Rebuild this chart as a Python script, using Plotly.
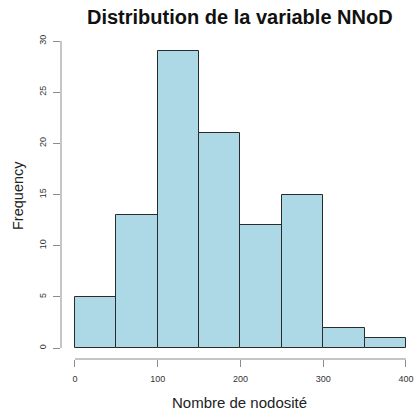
import plotly.graph_objects as go

bin_starts = [0, 50, 100, 150, 200, 250, 300, 350]
bin_width = 50
counts = [5, 13, 29, 21, 12, 15, 2, 1]
x_ticks = [0, 100, 200, 300, 400]
y_ticks = [0, 5, 10, 15, 20, 25, 30]

centers = [s + bin_width / 2 for s in bin_starts]

fig = go.Figure()
fig.add_trace(go.Bar(
    x=centers, y=counts, width=[bin_width] * len(counts),
    marker=dict(color="#ADD8E6", line=dict(color="#2b2b2b", width=1)),
    hoverinfo="x+y",
))

axis_color = "#8c8c8c"
font_family = "Liberation Sans, Arial, sans-serif"
tick_font = dict(family=font_family, size=9, color="#333333")

fig.update_layout(
    width=417, height=414, autosize=False,
    margin=dict(l=61, r=0, t=39, b=55),
    plot_bgcolor="white", paper_bgcolor="white",
    showlegend=False, bargap=0,
    xaxis=dict(range=[-16.9, 413.3], tickvals=x_ticks, ticks="outside", ticklen=7,
               tickcolor=axis_color, showline=False, showgrid=False, zeroline=False,
               tickfont=tick_font, ticklabelstandoff=4),
    yaxis=dict(range=[-1.075, 30.2], tickvals=y_ticks, ticks="outside", ticklen=7,
               tickcolor=axis_color, showline=False, showgrid=False, zeroline=False,
               tickfont=tick_font, tickangle=-90, ticklabelstandoff=3),
    shapes=[
        dict(type="line", xref="x", yref="paper", x0=x_ticks[0], x1=x_ticks[-1], y0=0, y1=0,
             line=dict(color=axis_color, width=1)),
        dict(type="line", xref="paper", yref="y", x0=0, x1=0, y0=y_ticks[0], y1=y_ticks[-1],
             line=dict(color=axis_color, width=1)),
    ],
    annotations=[
        dict(text="<b>Distribution de la variable NNoD</b>", xref="paper", yref="paper",
             x=(240 - 61) / 356, y=1, yshift=22, xanchor="center", yanchor="middle",
             showarrow=False, font=dict(family=font_family, size=20, color="#111111")),
        dict(text="Nombre de nodosité", xref="paper", yref="paper",
             x=(240 - 61) / 356, y=0, yshift=-43, xanchor="center", yanchor="middle",
             showarrow=False, font=dict(family=font_family, size=15, color="#222222")),
        dict(text="Frequency", xref="paper", yref="paper", textangle=-90,
             x=0, xshift=-43, y=(359 - 196) / 320, xanchor="center", yanchor="middle",
             showarrow=False, font=dict(family=font_family, size=14.5, color="#222222")),
    ],
)

fig.write_html("out.html", config={"displayModeBar": False},
               post_script="document.body.style.margin='0px';document.body.style.overflow='hidden';")
